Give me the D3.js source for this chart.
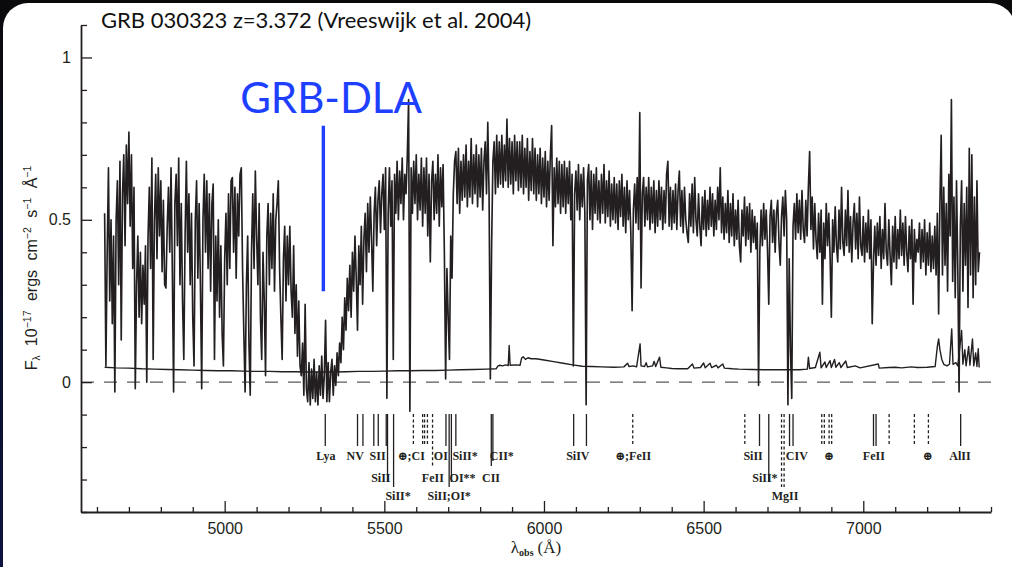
<!DOCTYPE html>
<html>
<head>
<meta charset="utf-8">
<script src="https://cdn.jsdelivr.net/npm/d3@7"></script>
<style>
  html, body { margin: 0; padding: 0; background: #000; }
  svg { display: block; }
</style>
</head>
<body>
<svg id="chart" width="1012" height="567"></svg>
<script>
// ---- GRB 030323 afterglow spectrum (flux in 1e-17 erg cm^-2 s^-1 A^-1) ----
// Flux sampled every 4 A starting at 4624 A; one row per 100 A.
const fluxStart = 4624;
const fluxStep = 4;
const flux = [
  .52,.05,.40,.66,.25,.50,.18,.45,-.03,.50,.62,.30,.68,.13,.58,.70,.42,.73,.55,.77,.48,.70,.35,.60,-.02,   // 4624
  .30,.45,.20,.40,.18,.36,.24,.42,.00,.45,.60,.35,.69,.07,.50,.64,.38,.66,.45,.62,.34,.56,.30,.29,.48,     // 4724
  .60,.40,.66,.35,-.03,.55,.64,.42,.69,.30,.55,.25,.07,.45,.68,.40,.58,.30,.52,.20,.05,.50,.62,.32,.55,    // 4824
  .30,-.02,.50,.64,.40,.62,.35,.58,.28,.55,.61,.07,.45,.25,.50,.20,.42,.15,.05,.38,.52,.30,.58,.35,.62,    // 4924
  .63,.40,.60,.32,.58,.45,.64,.66,.35,.15,-.03,.30,.45,.12,-.04,.40,.58,.35,.65,.45,.30,.55,.20,.07,.40,   // 5024
  .25,.02,.45,.55,.30,.52,.35,.58,.28,.50,.55,.62,.35,.20,.07,.38,.48,.25,.45,.30,.48,.28,.20,.42,.15,     // 5124
  .30,.08,.25,.05,.02,.12,-.04,.24,-.02,-.06,.06,-.07,.04,-.05,.07,-.06,.03,-.07,.05,-.04,.08,-.05,.02,.19,-.06, // 5224
  .06,-.06,.03,.07,-.04,.05,-.01,.09,.02,.12,.06,.20,.10,.26,.16,.32,.22,.36,.20,.40,.28,.45,.32,.16,.42,  // 5324
  .30,.48,.24,.44,.52,.34,.55,.40,.57,.44,.28,.52,.60,.42,.56,.62,.46,.58,.64,.47,.66,-.05,.52,.66,.48,    // 5424
  .62,.07,.64,.52,.68,.50,.65,.55,.69,.50,.64,.58,.70,.87,-.09,.66,.52,.68,.55,.70,.50,.64,.53,.69,.48,    // 5524
  .66,.52,.69,.45,.64,.37,.62,.68,.50,.64,.52,.70,.48,.66,.54,.67,.40,.01,.35,.20,.07,.45,.32,.58,.68,     // 5624
  .71,.55,.72,.52,.68,.56,.70,.57,.73,.54,.68,.57,.75,.55,.70,.58,.73,.54,.70,.57,.72,.53,.68,.74,.58,     // 5724
  .80,.58,.01,.42,.68,.74,.58,.76,.60,.74,.61,.76,.60,.73,.62,.81,.60,.75,.61,.74,.58,.76,.62,.74,.59,     // 5824
  .74,.60,.76,.58,.72,.60,.75,.56,.71,.59,.75,.58,.72,.56,.70,.58,.72,.55,.69,.57,.71,.54,.68,.56,.70,     // 5924
  .79,.42,.66,.54,.69,.55,.68,.52,.67,.54,.68,.52,.66,.55,.68,.50,.64,.05,.58,.65,.53,.67,.50,.64,.54,     // 6024
  .66,.52,-.07,.62,.67,.50,.65,.47,.64,.52,.66,.50,.62,.49,.64,.52,.67,.49,.62,.51,.65,.48,.61,.50,.63,    // 6124
  .49,.61,.47,.62,.51,.64,.48,.60,.46,.62,.50,.59,.46,.22,.53,.61,.49,.63,.47,.83,.29,.58,.63,.48,.60,     // 6224
  .50,.63,.47,.60,.49,.62,.46,.59,.48,.62,.50,.60,.47,.59,.49,.64,.68,.48,.60,.47,.59,.49,.61,.47,.59,     // 6324
  .65,.48,.59,.46,.60,.50,.46,.43,.58,.48,.61,.46,.63,.50,.45,.58,.48,.42,.57,.47,.59,.45,.56,.47,.60,     // 6424
  .48,.58,.45,.56,.47,.60,.50,.66,.46,.57,.44,.55,.46,.59,.43,.55,.45,.58,.42,.53,.44,.56,.42,.37,.53,     // 6524
  .45,.57,.42,.54,.44,.55,.40,.53,.43,.51,.41,.49,-.01,.40,.53,.42,.55,.44,.53,.41,.24,.51,.56,.43,.53,    // 6624
  .40,.52,.56,.43,.36,.51,.57,.45,.59,.50,-.07,.38,.10,-.05,.48,.55,.44,.58,.46,.56,.44,.59,.47,.43,.56,   // 6724
  .45,.60,.71,.47,.57,.41,.55,.44,.38,.52,.40,.53,.24,.49,.38,.55,.42,.52,.39,.20,.50,.40,.54,.42,.37,     // 6824
  .53,.41,.60,.43,.39,.53,.42,.59,.40,.51,.37,.49,.55,.41,.52,.38,.57,.42,.39,.51,.37,.49,.40,.53,.38,     // 6924
  .50,.18,.37,.48,.36,.49,.39,.51,.35,.47,.38,.55,.40,.36,.50,.39,.30,.48,.37,.51,.35,.47,.38,.53,.39,     // 7024
  .49,.36,.51,.40,.34,.48,.38,.50,.24,.47,.37,.44,.40,.49,.35,.47,.37,.50,.33,.46,.36,.49,.34,.45,.35,     // 7124
  .48,.33,.52,.21,.55,.76,.33,.60,.36,.55,.28,.64,.45,.87,.31,.57,.26,.62,.35,-.03,.48,.62,.28,.55,.36,    // 7224
  .60,.23,.72,.33,.70,.26,.57,.30,.62,.34,.40                                                             // 7324
];

// Error spectrum as [wavelength, sigma] pairs (denser around sky-line residuals).
const sigma = [
  [4624,.046],[4660,.044],[4700,.043],[4740,.041],[4780,.040],[4820,.039],[4860,.038],[4900,.037],
  [4940,.036],[4980,.035],[5020,.035],[5060,.034],[5100,.033],[5140,.033],[5180,.032],[5220,.032],
  [5260,.031],[5300,.031],[5340,.031],[5380,.032],[5420,.033],[5460,.033],[5500,.034],[5540,.035],
  [5580,.035],[5620,.036],[5660,.036],[5700,.037],[5740,.038],[5780,.039],[5820,.040],[5850,.041],
  [5856,.050],[5862,.052],[5870,.050],[5880,.053],[5888,.051],[5891,.113],[5894,.052],[5910,.053],
  [5925,.052],[5930,.074],[5935,.078],[5942,.070],[5950,.075],[5960,.072],[5975,.072],[6000,.068],
  [6030,.063],[6060,.058],[6090,.053],[6120,.049],[6150,.048],[6180,.047],[6220,.046],[6250,.047],
  [6262,.058],[6266,.048],[6280,.050],[6290,.047],[6301,.118],[6304,.050],[6315,.048],[6320,.060],
  [6324,.047],[6340,.050],[6345,.064],[6350,.048],[6362,.077],[6366,.046],[6384,.044],[6400,.042],
  [6420,.041],[6450,.041],[6465,.056],[6470,.043],[6490,.045],[6500,.059],[6505,.044],[6520,.058],
  [6525,.045],[6540,.052],[6545,.044],[6560,.056],[6565,.043],[6590,.041],[6610,.040],[6650,.039],
  [6700,.038],[6750,.038],[6800,.038],[6825,.040],[6828,.077],[6832,.042],[6850,.045],[6864,.092],
  [6868,.044],[6880,.062],[6884,.045],[6896,.066],[6900,.045],[6910,.070],[6914,.046],[6925,.060],
  [6930,.045],[6945,.065],[6950,.045],[6975,.050],[6990,.044],[7047,.056],[7050,.043],[7080,.045],
  [7100,.046],[7120,.044],[7150,.047],[7170,.045],[7200,.046],[7225,.048],[7232,.110],[7236,.133],
  [7240,.100],[7246,.070],[7252,.055],[7262,.050],[7270,.055],[7277,.164],[7281,.055],[7290,.060],
  [7296,.050],[7308,.159],[7312,.055],[7318,.100],[7322,.050],[7330,.110],[7334,.052],[7342,.133],
  [7346,.050],[7352,.090],[7356,.048],[7360,.103],[7363,.045]
];

// Absorption-line identifications: wavelength, dashed (telluric / other system), tick reach.
// reach: 0 = short, 1 = beside row-1 label, 2 = above row-2 label, 3 = beside row-2 label, 4 = above row-3 label
const idWavelengths = [5315, 5416, 5433, 5467, 5481, 5506, 5510, 5529, 5591, 5620, 5626, 5635, 5651,
  5693, 5703, 5710, 5724, 5835, 5840, 6093, 6133, 6278, 6629, 6675, 6704, 6744, 6752, 6769, 6780,
  6870, 6878, 6893, 6901, 7032, 7040, 7081, 7160, 7204, 7305];
const idDashed = [0,0,0,0,0,0,0,0,1,1,1,1,1, 0,0,0,0,0,0,0,0,1,1,0,0,1,1,0,0, 1,1,1,1,0,0,1,1,1,0];
const idReach  = [0,0,0,0,0,0,3,4,0,0,0,0,2, 0,4,3,0,2,1,0,0,0,0,0,3,4,4,0,0, 0,0,0,0,0,0,0,0,0,0];

const labelTexts = ["Lya","NV","SII","\u2295;CI","OI","SiII*","CII*","SiIV","\u2295;FeII","SiII","CIV","\u2295","FeII","\u2295","AlII",
  "SiII","FeII","OI**","CII","SiII*",
  "SiII*","SiII;OI*","MgII"];
const labelWavelengths = [5317,5409,5479,5584,5677,5753,5868,6106,6279,6655,6792,6892,7033,7201,7303,
  5489,5652,5745,5834,6692,
  5543,5703,6755];
const labelRows = [1,1,1,1,1,1,1,1,1,1,1,1,1,1,1, 2,2,2,2,2, 3,3,3];

const xMajorTicks = [5000, 5500, 6000, 6500, 7000];
const yMajorTicks = [0, 0.5, 1];
const titleText = "GRB 030323 z=3.372 (Vreeswijk et al. 2004)";
const dlaLabel = "GRB-DLA";
const dlaMarker = { lambda: 5309, low: 0.28, high: 0.79, textLambda: 5333, textFlux: 0.83 };

// ---- layout ----
const W = 1012, H = 567;
const plot = { left: 81, right: 991, top: 25, bottom: 512 };
const tickTop = 414;
const reachEnd = [446, 461, 466, 482, 487];
const rowBaseline = { 1: 460, 2: 481.5, 3: 500 };

const svg = d3.select('#chart');
const defs = svg.append('defs');
const grad = defs.append('linearGradient').attr('id', 'frame')
  .attr('x1', 0).attr('y1', 0).attr('x2', 0).attr('y2', 1);
grad.append('stop').attr('offset', '0%').attr('stop-color', '#0a0a0c');
grad.append('stop').attr('offset', '100%').attr('stop-color', '#0c1440');

svg.append('rect').attr('width', W).attr('height', H).attr('fill', 'url(#frame)');
svg.append('rect').attr('x', 3).attr('y', 3).attr('width', 1012).attr('height', 620)
  .attr('rx', 25).attr('fill', '#ffffff');

const x = d3.scaleLinear().domain([4550, 7400]).range([plot.left, plot.right]);
const y = d3.scaleLinear().domain([-0.4, 1.1]).range([plot.bottom, plot.top]);

const ink = '#231f20';

// zero level
svg.append('line')
  .attr('x1', x(4550)).attr('x2', x(7400)).attr('y1', y(0)).attr('y2', y(0))
  .attr('stroke', '#5a5a5a').attr('stroke-width', 1.3).attr('stroke-dasharray', '13,10');

// error spectrum
const line = d3.line().x(d => x(d[0])).y(d => y(d[1]));
svg.append('path').datum(sigma).attr('d', line)
  .attr('fill', 'none').attr('stroke', ink).attr('stroke-width', 1.4).attr('stroke-linejoin', 'round');

// flux spectrum
const fluxPts = flux.map((f, i) => [fluxStart + i * fluxStep, f]);
svg.append('path').datum(fluxPts).attr('d', line)
  .attr('fill', 'none').attr('stroke', ink).attr('stroke-width', 1.65).attr('stroke-linejoin', 'round');

// axes
const xMinor = d3.range(4600, 7401, 100).filter(v => !xMajorTicks.includes(v));
const yMinor = d3.range(-4, 12).map(v => v / 10).filter(v => !yMajorTicks.includes(v));

const gx = svg.append('g').attr('transform', `translate(0,${plot.bottom})`);
gx.call(d3.axisBottom(x).tickValues(xMinor).tickSize(-5).tickSizeOuter(0).tickFormat(''));
gx.call(g => g.selectAll('.tick line').attr('stroke', ink).attr('stroke-width', 1.3));
const gxMaj = svg.append('g').attr('transform', `translate(0,${plot.bottom})`)
  .call(d3.axisBottom(x).tickValues(xMajorTicks).tickSize(-11).tickSizeOuter(0).tickFormat(d3.format('d')));
gxMaj.select('.domain').remove();
gxMaj.selectAll('.tick line').attr('stroke', ink).attr('stroke-width', 1.3);
gxMaj.selectAll('.tick text').attr('y', 21.5).attr('dy', 0)
  .attr('font-family', '"Liberation Sans", Arial, sans-serif').attr('font-size', 16).attr('fill', ink);
gx.select('.domain').attr('stroke', ink).attr('stroke-width', 1.8);

const gy = svg.append('g').attr('transform', `translate(${plot.left},0)`);
gy.call(d3.axisLeft(y).tickValues(yMinor).tickSize(-6).tickSizeOuter(0).tickFormat(''));
gy.selectAll('.tick line').attr('stroke', ink).attr('stroke-width', 1.3);
gy.select('.domain').attr('stroke', ink).attr('stroke-width', 1.8);
const gyMaj = svg.append('g').attr('transform', `translate(${plot.left},0)`)
  .call(d3.axisLeft(y).tickValues(yMajorTicks).tickSize(-11).tickSizeOuter(0).tickPadding(10).tickFormat(d3.format('')));
gyMaj.select('.domain').remove();
gyMaj.selectAll('.tick line').attr('stroke', ink).attr('stroke-width', 1.3);
gyMaj.selectAll('.tick text').attr('x', -10)
  .attr('font-family', '"Liberation Sans", Arial, sans-serif').attr('font-size', 16).attr('fill', ink);

// axis titles
const yl = svg.append('text')
  .attr('transform', 'translate(36.5,268) rotate(-90)')
  .attr('text-anchor', 'middle')
  .attr('font-family', '"Liberation Sans", Arial, sans-serif').attr('font-size', 16)
  .attr('word-spacing', 5).attr('fill', ink);
yl.append('tspan').text('F');
yl.append('tspan').attr('font-size', 10).attr('dy', 3).text('\u03bb');
yl.append('tspan').attr('dy', -3).text(' 10');
yl.append('tspan').attr('font-size', 10.5).attr('dy', -6).text('\u221217');
yl.append('tspan').attr('dy', 6).text(' ergs cm');
yl.append('tspan').attr('font-size', 10.5).attr('dy', -6).text('\u22122');
yl.append('tspan').attr('dy', 6).text(' s');
yl.append('tspan').attr('font-size', 10.5).attr('dy', -6).text('\u22121');
yl.append('tspan').attr('dy', 6).text(' \u00c5');
yl.append('tspan').attr('font-size', 10.5).attr('dy', -6).text('\u22121');

const xl = svg.append('text')
  .attr('x', 536).attr('y', 553).attr('text-anchor', 'middle')
  .attr('font-family', '"Liberation Serif", "Times New Roman", serif').attr('font-size', 17).attr('fill', ink);
xl.append('tspan').text('\u03bb');
xl.append('tspan').attr('font-size', 10).attr('font-weight', 'bold').attr('dy', 3).text('obs');
xl.append('tspan').attr('dy', -3).attr('dx', 4).text('(\u00c5)');

// line identification ticks
const ids = idWavelengths.map((w, i) => ({ w, dashed: idDashed[i], reach: idReach[i] }));
svg.append('g').selectAll('line').data(ids).join('line')
  .attr('x1', d => x(d.w)).attr('x2', d => x(d.w))
  .attr('y1', tickTop).attr('y2', d => reachEnd[d.reach])
  .attr('stroke', ink).attr('stroke-width', 1.3)
  .attr('stroke-dasharray', d => d.dashed ? '3,2.4' : null);

// line identification labels
const labels = labelTexts.map((t, i) => ({ t, w: labelWavelengths[i], row: labelRows[i] }));
svg.append('g').selectAll('text').data(labels).join('text')
  .attr('x', d => x(d.w)).attr('y', d => rowBaseline[d.row])
  .attr('text-anchor', 'middle')
  .attr('font-family', '"Liberation Serif", "DejaVu Serif", serif')
  .attr('font-weight', 'bold').attr('font-size', 12).attr('fill', ink)
  .text(d => d.t);

// title
svg.append('text').attr('x', 101).attr('y', 28)
  .attr('font-family', 'Lato, "Open Sans", sans-serif').attr('font-size', 22).attr('fill', '#111')
  .text(titleText);

// DLA annotation
svg.append('line')
  .attr('x1', x(dlaMarker.lambda)).attr('x2', x(dlaMarker.lambda))
  .attr('y1', y(dlaMarker.high)).attr('y2', y(dlaMarker.low))
  .attr('stroke', '#1f3fff').attr('stroke-width', 3.4);
svg.append('text')
  .attr('x', x(dlaMarker.textLambda)).attr('y', y(dlaMarker.textFlux))
  .attr('text-anchor', 'middle')
  .attr('font-family', 'Lato, "Open Sans", sans-serif').attr('font-size', 42).attr('fill', '#1f3fff')
  .text(dlaLabel);
</script>
</body>
</html>
